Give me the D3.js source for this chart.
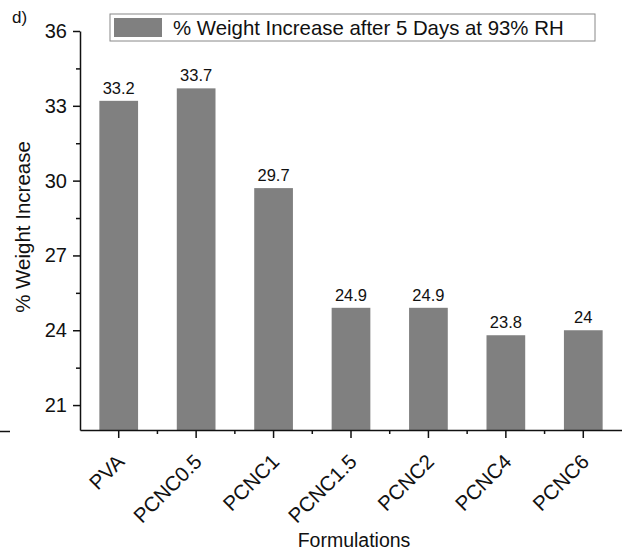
<!DOCTYPE html>
<html>
<head>
<meta charset="utf-8">
<script src="https://cdn.jsdelivr.net/npm/d3@7"></script>
<style>
  body { margin: 0; background: #fff; }
  svg text { font-family: "Liberation Sans", Arial, sans-serif; }
</style>
</head>
<body>
<div id="chart"></div>
<script>
// data
var formulations = ["PVA", "PCNC0.5", "PCNC1", "PCNC1.5", "PCNC2", "PCNC4", "PCNC6"];
var weightIncrease = [33.2, 33.7, 29.7, 24.9, 24.9, 23.8, 24];
var yTicks = [21, 24, 27, 30, 33, 36];
var yMinorTicks = [22.5, 25.5, 28.5, 31.5, 34.5];
var seriesName = "% Weight Increase after 5 Days at 93% RH";

var W = 622, H = 554;
var margin = { top: 31, right: 0, bottom: 124, left: 80 };
var width = W - margin.left - margin.right,
    height = H - margin.top - margin.bottom;

var svg = d3.select("#chart").append("svg")
    .attr("width", W)
    .attr("height", H);

var g = svg.append("g")
    .attr("transform", "translate(" + margin.left + "," + margin.top + ")");

// scales
var x = d3.scaleBand()
    .domain(formulations)
    .range([0, width])
    .paddingInner(0.5)
    .paddingOuter(0.25);

var y = d3.scaleLinear()
    .domain([20, 36])
    .range([height, 0]);

// bars
g.selectAll("rect.bar")
    .data(formulations)
    .enter().append("rect")
    .attr("class", "bar")
    .attr("x", function(d) { return x(d); })
    .attr("width", x.bandwidth())
    .attr("y", function(d, i) { return y(weightIncrease[i]); })
    .attr("height", function(d, i) { return height - y(weightIncrease[i]); })
    .attr("fill", "#808080");

// value labels
g.selectAll("text.val")
    .data(formulations)
    .enter().append("text")
    .attr("class", "val")
    .attr("x", function(d) { return x(d) + x.bandwidth() / 2; })
    .attr("y", function(d, i) { return y(weightIncrease[i]) - 7; })
    .attr("text-anchor", "middle")
    .style("font-size", "16.5px")
    .attr("fill", "#111")
    .text(function(d, i) { return weightIncrease[i]; });

// y axis
var yAxis = g.append("g")
    .call(d3.axisLeft(y).tickValues(yTicks).tickSize(7).tickPadding(6).tickSizeOuter(0));
yAxis.selectAll("text").style("font-size", "20px").attr("fill", "#111");
yAxis.selectAll("line, path").attr("stroke", "#111").attr("stroke-width", 1.5);

var yMinor = g.append("g")
    .call(d3.axisLeft(y).tickValues(yMinorTicks).tickSize(4).tickFormat("").tickSizeOuter(0));
yMinor.select("path").remove();
yMinor.selectAll("line").attr("stroke", "#111").attr("stroke-width", 1.5);

// x axis
var xAxis = g.append("g")
    .attr("transform", "translate(0," + height + ")")
    .call(d3.axisBottom(x).tickSize(8).tickSizeOuter(0));
xAxis.selectAll("line, path").attr("stroke", "#111").attr("stroke-width", 1.5);
xAxis.selectAll("text")
    .style("font-size", "20.5px")
    .attr("fill", "#111")
    .attr("text-anchor", "end")
    .attr("x", 0)
    .attr("y", 0)
    .attr("dy", 0)
    .attr("transform", "translate(7,33) rotate(-45)");

// minor x ticks between categories
var step = x.step();
var minorX = formulations.slice(1).map(function(d) { return x(d) + x.bandwidth() / 2 - step / 2; });
g.selectAll("line.xminor")
    .data(minorX)
    .enter().append("line")
    .attr("class", "xminor")
    .attr("x1", function(d) { return d; })
    .attr("x2", function(d) { return d; })
    .attr("y1", height)
    .attr("y2", height + 4)
    .attr("stroke", "#111")
    .attr("stroke-width", 1.5);

// axis titles
svg.append("text")
    .attr("x", 354)
    .attr("y", 547)
    .attr("text-anchor", "middle")
    .style("font-size", "19.5px")
    .attr("fill", "#111")
    .text("Formulations");

svg.append("text")
    .attr("transform", "translate(30,227) rotate(-90)")
    .attr("text-anchor", "middle")
    .style("font-size", "20.5px")
    .attr("fill", "#111")
    .text("% Weight Increase");

// panel label
svg.append("text")
    .attr("x", 12)
    .attr("y", 23)
    .style("font-size", "17px")
    .attr("fill", "#111")
    .text("d)");

// stray tick at left edge
svg.append("line")
    .attr("x1", 0).attr("x2", 10)
    .attr("y1", 431.5).attr("y2", 431.5)
    .attr("stroke", "#111")
    .attr("stroke-width", 1.5);

// legend
var legend = svg.append("g").attr("transform", "translate(110,14)");
legend.append("rect")
    .attr("width", 485)
    .attr("height", 27)
    .attr("fill", "#fff")
    .attr("stroke", "#888")
    .attr("stroke-width", 1);
legend.append("rect")
    .attr("x", 4).attr("y", 4)
    .attr("width", 48).attr("height", 19)
    .attr("fill", "#808080");
legend.append("text")
    .attr("x", 63)
    .attr("y", 21)
    .style("font-size", "20.4px")
    .attr("fill", "#111")
    .text(seriesName);
</script>
</body>
</html>
